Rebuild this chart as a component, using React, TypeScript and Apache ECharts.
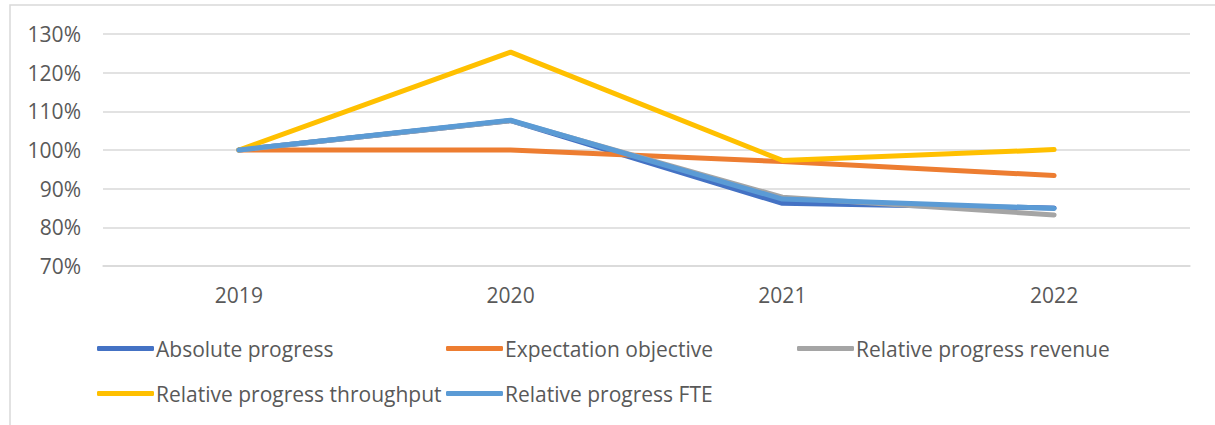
import React, { useEffect, useRef } from "react";
import * as echarts from "echarts";

const categories = ["2019", "2020", "2021", "2022"];
const absoluteProgress = [100, 107.6, 86.2, 85.0];
const expectationObjective = [100, 100, 97.0, 93.4];
const relativeRevenue = [100, 107.6, 87.8, 83.2];
const relativeThroughput = [100, 125.3, 97.3, 100.1];
const relativeFTE = [100, 107.7, 87.3, 84.9];

const seriesNames = [
  "Absolute progress",
  "Expectation objective",
  "Relative progress revenue",
  "Relative progress throughput",
  "Relative progress FTE",
];
const seriesColors = ["#4472C4", "#ED7D31", "#A5A5A5", "#FFC000", "#5B9BD5"];
const seriesData = [absoluteProgress, expectationObjective, relativeRevenue, relativeThroughput, relativeFTE];

const FONT = "'Open Sans', sans-serif";

export default function App() {
  const ref = useRef<HTMLDivElement>(null);
  useEffect(() => {
    if (!ref.current) return;
    const chart = echarts.init(ref.current, null, { renderer: "svg" });
    const legendPos = [
      { left: 92, top: 333 },
      { left: 441, top: 333 },
      { left: 792, top: 333 },
      { left: 92, top: 378 },
      { left: 441, top: 378 },
    ];
    chart.setOption({
      animation: false,
      backgroundColor: "#ffffff",
      graphic: [
        {
          type: "rect",
          shape: { x: 10, y: 5, width: 1400, height: 600 },
          style: { fill: "none", stroke: "#D9D9D9", lineWidth: 1.5 },
          silent: true,
        },
      ],
      grid: { left: 103, right: 25, top: 34, bottom: 159 },
      xAxis: {
        type: "category",
        data: categories,
        boundaryGap: true,
        axisLine: { show: true, lineStyle: { color: "#D9D9D9", width: 1.5 } },
        axisTick: { show: false },
        axisLabel: { color: "#595959", fontSize: 21, fontFamily: FONT, margin: 18 },
      },
      yAxis: {
        type: "value",
        min: 70,
        max: 130,
        interval: 10,
        axisLine: { show: false },
        axisTick: { show: false },
        splitLine: { lineStyle: { color: "#D9D9D9", width: 1.5 } },
        axisLabel: {
          color: "#595959",
          fontSize: 21,
          fontFamily: FONT,
          margin: 22,
          formatter: "{value}%",
        },
      },
      legend: seriesNames.map((n, i) => ({
        data: [n],
        left: legendPos[i].left,
        top: legendPos[i].top,
        icon: "roundRect",
        itemWidth: 57,
        itemHeight: 5,
        textStyle: { color: "#595959", fontSize: 21, fontFamily: FONT, padding: [0, 0, 0, -3] },
      })),
      series: seriesNames.map((n, i) => ({
        name: n,
        type: "line",
        data: seriesData[i],
        symbol: "none",
        color: seriesColors[i],
        lineStyle: { width: 5, color: seriesColors[i], cap: "round", join: "round" },
      })),
    });
    return () => chart.dispose();
  }, []);
  return (
    <div
      ref={ref}
      style={{ position: "fixed", left: 0, top: 0, width: 1215, height: 425 }}
    />
  );
}
